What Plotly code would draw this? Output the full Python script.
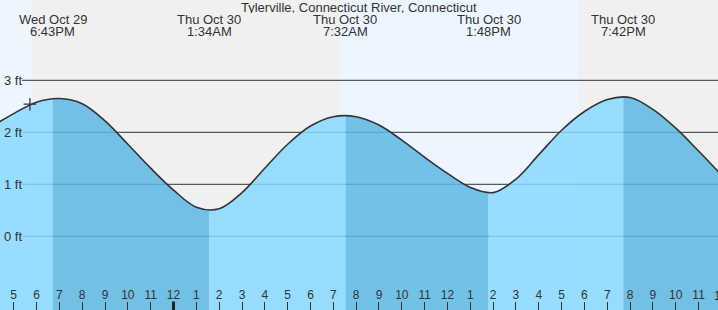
import plotly.graph_objects as go

# ---- data (hours relative to midnight Thu Oct 30; levels in ft) ----
hours = [-8, -7, -6, -5, -4, -3, -2, -1, 0, 1, 2, 3, 4, 5, 6, 7, 8, 9, 10, 11, 12,
         13, 14, 15, 16, 17, 18, 19, 20, 21, 22, 23, 24]
levels = [2.10, 2.36, 2.58, 2.65, 2.55, 2.22, 1.77, 1.31, 0.89, 0.56, 0.53, 0.84,
          1.31, 1.77, 2.12, 2.30, 2.30, 2.14, 1.85, 1.52, 1.21, 0.94, 0.84, 1.10,
          1.57, 2.04, 2.40, 2.63, 2.67, 2.44, 2.08, 1.64, 1.18]

extreme_times = [-5.283, 1.567, 7.533, 13.8, 19.7]
extreme_dates = ["Wed Oct 29", "Thu Oct 30", "Thu Oct 30", "Thu Oct 30", "Thu Oct 30"]
extreme_clock = ["6:43PM", "1:34AM", "7:32AM", "1:48PM", "7:42PM"]

night_starts = [-6.20, 17.76]
night_ends = [7.29, 24.5]

tick_hours = list(range(-7, 24))
tick_labels = ["5", "6", "7", "8", "9", "10", "11", "12", "1", "2", "3", "4", "5", "6",
               "7", "8", "9", "10", "11", "12", "1", "2", "3", "4", "5", "6", "7", "8",
               "9", "10", "11"]
edge_tick_hours = [24]
edge_tick_labels = ["12"]
midnight_ticks = [0]

now_time = [-6.29]
now_level = [2.54]

ft_levels = [0, 1, 2, 3]
ft_labels = ["0 ft", "1 ft", "2 ft", "3 ft"]

title = "Tylerville, Connecticut River, Connecticut"

# ---- style ----
W, H = 718, 310
X0, X1 = -7.600, 23.850
Y_RANGE = [-1.417, 4.544]
FONT = "Liberation Sans, Arial, sans-serif"
TXT = "#333333"
DAY = "#edf6fe"
NIGHT = "#f0f0f0"
RISE = "rgba(134,216,255,0.85)"
FALL = "rgba(92,184,227,0.85)"
BASE = -3

fig = go.Figure()
layout_axes = {}


def add_fill(xname, color):
    fig.add_trace(go.Scatter(x=[hours[0], hours[-1]], y=[BASE, BASE], mode="lines",
                             line=dict(width=0, color="rgba(0,0,0,0)"),
                             xaxis=xname, yaxis="y", showlegend=False, hoverinfo="skip"))
    fig.add_trace(go.Scatter(x=hours, y=levels, mode="lines",
                             line=dict(width=0, shape="spline", smoothing=1, color=color),
                             fill="tonexty", fillcolor=color,
                             xaxis=xname, yaxis="y", showlegend=False, hoverinfo="skip"))


# rising / falling segments between extremes: clipped sub-axes with identical scale
bounds = [X0] + extreme_times + [X1]
k = 2
for i in range(len(bounds) - 1):
    a, b = bounds[i], bounds[i + 1]
    layout_axes["xaxis%d" % k] = dict(domain=[(a - X0) / (X1 - X0), (b - X0) / (X1 - X0)],
                                      range=[a, b], visible=False, fixedrange=True,
                                      anchor="y")
    add_fill("x%d" % k, RISE if i % 2 == 0 else FALL)
    k += 1

# curve line + "now" marker + hour ticks on the top-most full-width axis
top = "x%d" % k
layout_axes["xaxis%d" % k] = dict(
    domain=[0, 1], range=[X0, X1], anchor="y", showgrid=False, zeroline=False,
    showline=False, tickmode="array", tickvals=tick_hours, ticktext=tick_labels,
    ticks="inside", ticklen=8, tickwidth=1, tickcolor=TXT, ticklabelposition="inside",
    tickfont=dict(family=FONT, size=12, color=TXT), fixedrange=True)
fig.add_trace(go.Scatter(x=hours, y=levels, mode="lines",
                         line=dict(color=TXT, width=1.6, shape="spline", smoothing=1),
                         xaxis=top, yaxis="y", showlegend=False, hoverinfo="skip"))
fig.add_trace(go.Scatter(x=now_time, y=now_level, mode="markers",
                         marker=dict(symbol="cross-thin", size=9,
                                     line=dict(color=TXT, width=1.3)),
                         xaxis=top, yaxis="y", showlegend=False, hoverinfo="skip"))

shapes = []
shapes.append(dict(type="rect", xref="paper", yref="paper", x0=0, x1=1, y0=0, y1=1,
                   fillcolor=DAY, line=dict(width=0), layer="below"))
for s, e in zip(night_starts, night_ends):
    shapes.append(dict(type="rect", xref="x", yref="paper", x0=s, x1=e, y0=0, y1=1,
                       fillcolor=NIGHT, line=dict(width=0), layer="below"))
for lv in ft_levels:
    shapes.append(dict(type="line", xref="paper", yref="y", x0=22 / W, x1=1, y0=lv, y1=lv,
                       line=dict(color=TXT, width=1), layer="below"))
for m in midnight_ticks:
    shapes.append(dict(type="line", xref="x", yref="paper", x0=m, x1=m, y0=0, y1=8.5 / H,
                       line=dict(color="#222222", width=3), layer="above"))

annotations = []
annotations.append(dict(text=title, xref="paper", yref="paper", x=0.5, y=1 - 7.5 / H,
                        xanchor="center", yanchor="middle", showarrow=False, height=12,
                        font=dict(family=FONT, size=13, color=TXT)))
for t, d, c in zip(extreme_times, extreme_dates, extreme_clock):
    annotations.append(dict(text=d, xref="x", yref="paper", x=t, y=1 - 20 / H,
                            xanchor="center", yanchor="middle", showarrow=False, height=11,
                            font=dict(family=FONT, size=13, color=TXT)))
    annotations.append(dict(text=c, xref="x", yref="paper", x=t, y=1 - 31.5 / H,
                            xanchor="center", yanchor="middle", showarrow=False, height=11,
                            font=dict(family=FONT, size=13, color=TXT)))
for lv, lab in zip(ft_levels, ft_labels):
    annotations.append(dict(text=lab, xref="paper", yref="y", x=1.5 / W, y=lv,
                            xanchor="left", yanchor="middle", showarrow=False,
                            font=dict(family=FONT, size=13, color=TXT)))
# hour label just past the right edge (partly visible, as in the original)
for t, lab in zip(edge_tick_hours, edge_tick_labels):
    annotations.append(dict(text=lab, xref="paper", yref="paper", x=(t - X0) / (X1 - X0),
                            y=(H - 296) / H, xanchor="center", yanchor="middle",
                            showarrow=False, font=dict(family=FONT, size=12, color=TXT)))

fig.update_layout(
    width=W, height=H, margin=dict(l=0, r=0, t=0, b=0),
    paper_bgcolor="white", plot_bgcolor="rgba(0,0,0,0)",
    shapes=shapes, annotations=annotations, showlegend=False,
    xaxis=dict(domain=[0, 1], range=[X0, X1], visible=False, fixedrange=True),
    yaxis=dict(range=Y_RANGE, showgrid=False, zeroline=False, showline=False,
               showticklabels=False, ticks="", fixedrange=True),
    **layout_axes,
)

fig.write_html("out.html")
